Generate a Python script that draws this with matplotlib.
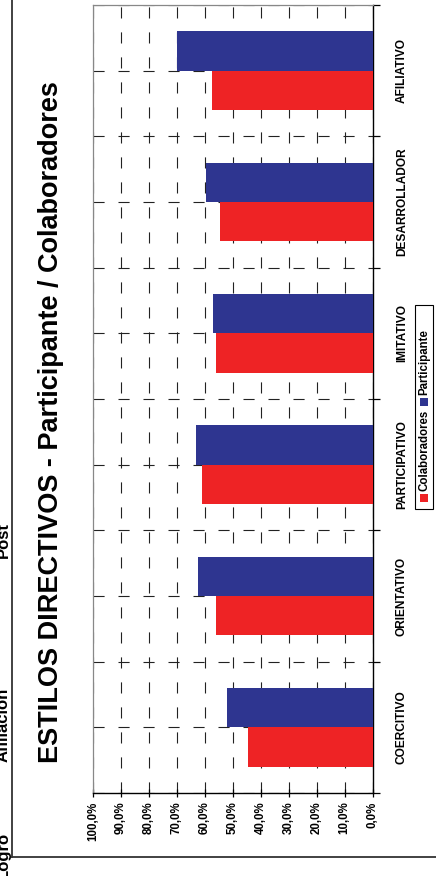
import matplotlib
matplotlib.use("Agg")
import matplotlib.pyplot as plt
from matplotlib.patches import Rectangle
from matplotlib.lines import Line2D
import numpy as np

plt.rcParams['font.family'] = ['Liberation Sans', 'DejaVu Sans']
plt.rcParams['lines.scale_dashes'] = False

categories = ["COERCITIVO", "ORIENTATIVO", "PARTICIPATIVO", "IMITATIVO", "DESARROLLADOR", "AFILIATIVO"]
colaboradores = [44.5, 56.0, 61.2, 56.0, 54.7, 57.6]
participante = [52.1, 62.6, 63.0, 57.2, 59.7, 70.0]
value_ticks = [0, 10, 20, 30, 40, 50, 60, 70, 80, 90, 100]
value_labels = ["0,0%", "10,0%", "20,0%", "30,0%", "40,0%", "50,0%", "60,0%", "70,0%", "80,0%", "90,0%", "100,0%"]
title = "ESTILOS DIRECTIVOS - Participante / Colaboradores"
side_texts = ["Logro", "Afiliación", "Post"]

RED = "#EE2325"
BLUE = "#2E3590"

W, H = 436, 876
fig = plt.figure(figsize=(W / 100, H / 100), dpi=100)

ax = fig.add_axes([93 / W, 1 - 793 / H, (372.7 - 93) / W, (793 - 5) / H])
y = np.arange(len(categories))
bw = 0.3
ax.barh(y - bw / 2, colaboradores, height=bw, color=RED, zorder=3)
ax.barh(y + bw / 2, participante, height=bw, color=BLUE, zorder=3)

ax.set_xlim(100, 0)
ax.set_ylim(-0.5, len(categories) - 0.5)

ax.set_xticks(value_ticks)
ax.set_xticklabels(value_labels, rotation=90, fontsize=8.3, fontweight='bold', va='top')
ax.tick_params(axis='x', direction='inout', length=6, width=0.9, pad=3)

ax.set_yticks(y)
ax.set_yticks(np.arange(-0.5, len(categories), 1.0), minor=True)
ax.yaxis.tick_right()
ax.set_yticklabels(categories, rotation=90, fontsize=8.6, fontweight='bold', va='center', ha='center')
ax.tick_params(axis='y', which='major', length=0, pad=21)
ax.tick_params(axis='y', which='minor', direction='out', length=5, width=0.9)

ax.set_axisbelow(True)
ax.grid(True, axis='x', which='major', color='#222222', linestyle=(0, (8, 10)), linewidth=0.8)
ax.grid(True, axis='y', which='both', color='#222222', linestyle=(0, (8, 10)), linewidth=0.8)

for s in ['top', 'left']:
    ax.spines[s].set_color('#888888')
    ax.spines[s].set_linewidth(0.9)
for s in ['right', 'bottom']:
    ax.spines[s].set_color('black')
    ax.spines[s].set_linewidth(1.0)

fig.text(51 / W, 1 - 422 / H, title, rotation=90, fontsize=19.5, fontweight='bold',
         ha='center', va='center')

# legend (rotated)
lx0, lx1, ly0, ly1 = 415, 433, 305, 509
fig.add_artist(Rectangle((lx0 / W, 1 - ly1 / H), (lx1 - lx0) / W, (ly1 - ly0) / H,
                         transform=fig.transFigure, facecolor='white', edgecolor='black', linewidth=0.8))
fig.add_artist(Rectangle((420 / W, 1 - 502 / H), 8 / W, 8 / H, transform=fig.transFigure,
                         facecolor=RED, edgecolor='none'))
fig.text(424.5 / W, 1 - 491 / H, "Colaboradores", rotation=90, fontsize=8.3, fontweight='bold',
         ha='center', va='bottom')
fig.add_artist(Rectangle((420 / W, 1 - 406 / H), 8 / W, 8 / H, transform=fig.transFigure,
                         facecolor=BLUE, edgecolor='none'))
fig.text(424.5 / W, 1 - 395 / H, "Participante", rotation=90, fontsize=8.3, fontweight='bold',
         ha='center', va='bottom')

# outer frame remnants
fig.add_artist(Line2D([12 / W, 12 / W], [1 - 857 / H, 1.0], transform=fig.transFigure,
                      color='#333333', linewidth=1.3))
fig.add_artist(Line2D([12 / W, 1.0], [1 - 857 / H, 1 - 857 / H], transform=fig.transFigure,
                      color='#333333', linewidth=1.3))

for txt, yc in zip(side_texts, [855, 725, 540]):
    fig.text(3 / W, 1 - yc / H, txt, rotation=90, fontsize=12, fontweight='bold',
             ha='center', va='center')

fig.savefig("out.png", dpi=100)
